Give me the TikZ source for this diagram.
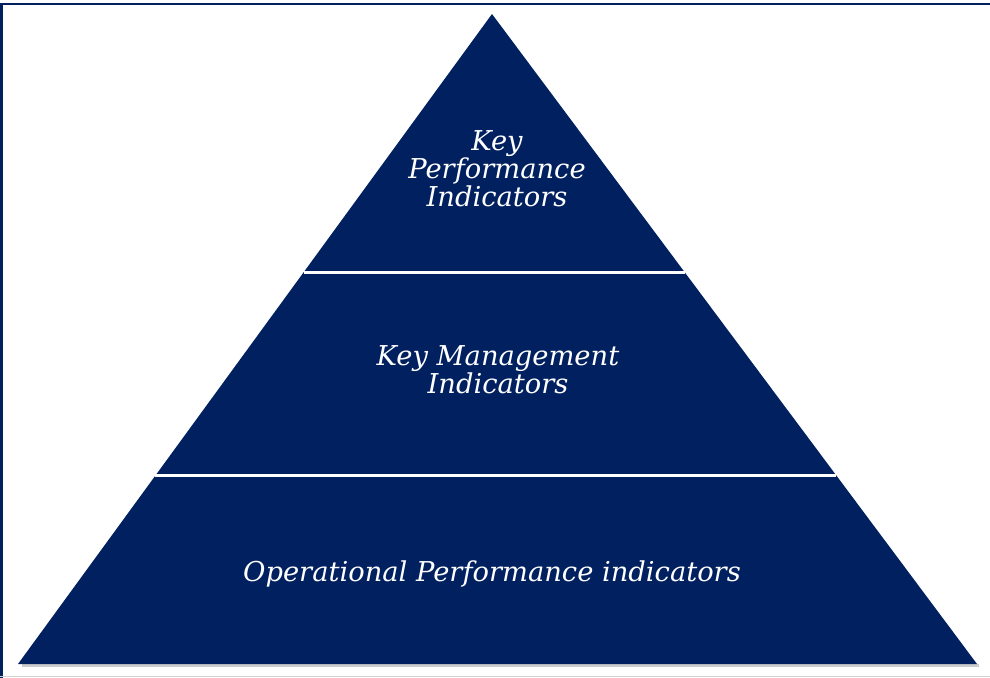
\documentclass[tikz,border=0pt]{standalone}
\usepackage{fontspec}
\setmainfont{DejaVu Serif}
\usetikzlibrary{calc}
\definecolor{pyrnavy}{RGB}{0,32,96}
\tikzset{
  lvltext/.style={text=white, font=\itshape\fontsize{20.5}{21}\selectfont, align=center, inner sep=0pt},
  divider/.style={white, line width=2pt},
}
\begin{document}
\begin{tikzpicture}[x=0.75pt, y=-0.75pt]
  % page and frame
  \useasboundingbox (0,0) rectangle (990,678);
  \draw[pyrnavy, line width=2.2pt] (1.5,678) -- (1.5,4) -- (990,4);
  \draw[gray!35, line width=0.8pt] (0,676.5) -- (990,676.5);

  % pyramid corners
  \coordinate (apex) at (492,14);
  \coordinate (bl) at (18,664);
  \coordinate (br) at (977,664);

  % soft shadow, then the body
  \fill[gray!40] ($(bl)+(4,3)$) -- ($(br)+(2,3)$) -- ($(br)+(2,0)$) -- ($(bl)+(4,0)$) -- cycle;
  \fill[pyrnavy] (apex) -- (br) -- (bl) -- cycle;

  % level dividers
  \coordinate (d1l) at ($(apex)!0.3975!(bl)$);
  \coordinate (d1r) at ($(apex)!0.3975!(br)$);
  \coordinate (d2l) at ($(apex)!0.710!(bl)$);
  \coordinate (d2r) at ($(apex)!0.710!(br)$);
  \draw[divider] (d1l) -- (d1r);
  \draw[divider] (d2l) -- (d2r);

  % level labels
  \node[lvltext] (kpi) at (497,169) {Key\\Performance\\Indicators};
  \node[lvltext] (kmi) at (498,370) {Key Management\\Indicators};
  \node[lvltext] (opi) at (492,574) {Operational Performance indicators};
\end{tikzpicture}
\end{document}
